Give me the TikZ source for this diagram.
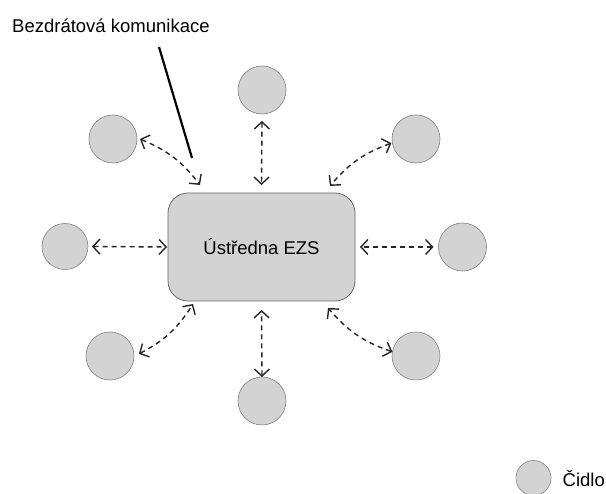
\documentclass[tikz,border=0pt]{standalone}
\usepackage{fontspec}
\setmainfont{Liberation Sans}
\usetikzlibrary{arrows.meta}
\definecolor{plochaseda}{HTML}{D3D3D3}
\definecolor{okrajseda}{HTML}{808080}
\tikzset{
	cidlo/.style={circle,fill=plochaseda,draw=okrajseda,line width=.6pt,minimum size=48pt,inner sep=0pt,outer sep=0pt},
	ustredna/.style={rectangle,rounded corners=20pt,fill=plochaseda,draw=okrajseda!80!black,line width=.8pt,minimum width=187pt,minimum height=108pt,outer sep=0pt,font=\fontsize{18.5}{22}\selectfont},
	spoj/.style={dashed,dash pattern=on 5pt off 4pt,line width=1.4pt,black!85,{Straight Barb[length=7pt,width=15pt]}-{Straight Barb[length=7pt,width=15pt]}},
	popis/.style={font=\fontsize{18.5}{22}\selectfont,inner sep=0pt}
}
\begin{document}
\begin{tikzpicture}[x=1pt,y=1pt]
		\useasboundingbox (0,0) rectangle (606,494);
		%ustredna a cidla
		\node [ustredna] (ezs) at (261.5,247) {Ústředna EZS};
		\node [cidlo] (ctop) at (262,404) {};
		\node [cidlo] (ctl) at (113,355) {};
		\node [cidlo] (ctr) at (416,355) {};
		\node [cidlo,minimum size=46pt] (cl) at (65,247.5) {};
		\node [cidlo] (cr) at (462.5,247) {};
		\node [cidlo] (cbl) at (110,138) {};
		\node [cidlo] (cb) at (262,93) {};
		\node [cidlo] (cbr) at (416,138) {};
		%bezdratove spoje
		\draw [spoj] ([xshift=3pt]ctl.east) to[bend left=15] ([xshift=-61.5pt,yshift=8pt]ezs.north);
		\draw [spoj] ([yshift=-7pt]ctop.south) -- ([yshift=8pt]ezs.north);
		\draw [spoj] ([xshift=-1pt]ctr.190) to[bend right=15] ([xshift=68.5pt,yshift=7pt]ezs.north);
		\draw [spoj] ([xshift=4pt]cl.east) -- ([xshift=-1pt]ezs.west);
		\draw [spoj] ([xshift=-5pt]cr.west) -- ([xshift=5pt]ezs.east);
		\draw [spoj] ([xshift=5pt]cbl.5) to[bend right=15] ([xshift=-68.5pt,yshift=-3pt]ezs.south);
		\draw [spoj] (cb.north) -- ([yshift=-9pt]ezs.south);
		\draw [spoj] (cbr.170) to[bend left=15] ([xshift=66.5pt,yshift=-7pt]ezs.south);
		%popisek
		\node [popis,anchor=west] (bk) at (12,468) {Bezdrátová komunikace};
		\coordinate (bkzacatek) at (159,447);
		\coordinate (bkkonec) at (192,336);
		\draw [line width=2.2pt] (bkzacatek) -- (bkkonec);
		%legenda
		\node [cidlo,minimum size=35pt] (leg) at (533.5,16) {};
		\node [popis,anchor=east] (legtext) at (605,15) {Čidlo};
\end{tikzpicture}
\end{document}
